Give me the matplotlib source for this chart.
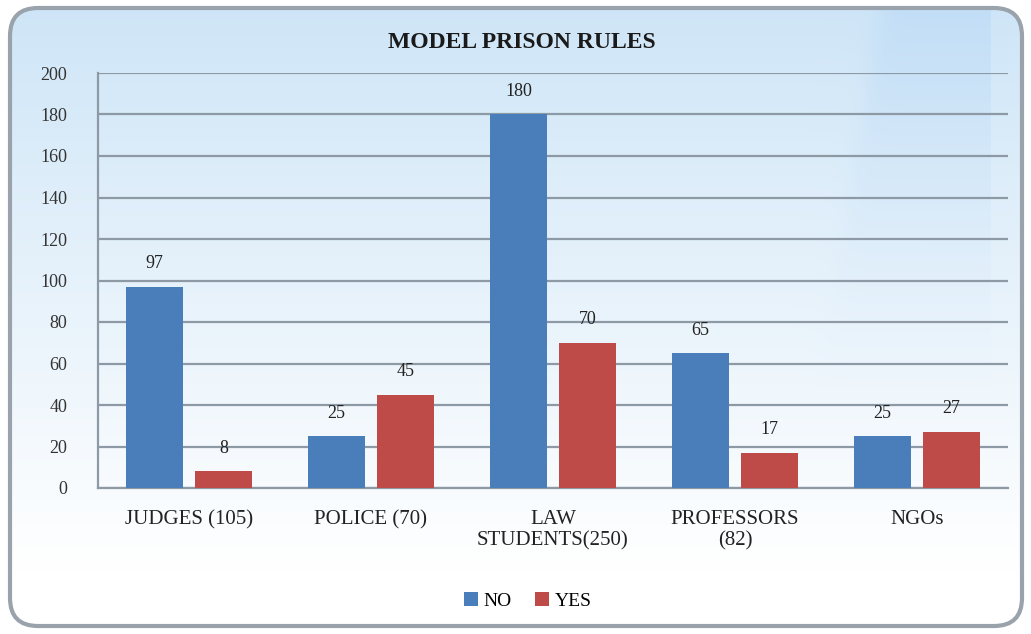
import numpy as np
import matplotlib
matplotlib.use("Agg")
import matplotlib.pyplot as plt
from matplotlib.patches import FancyBboxPatch

categories = ["JUDGES (105)", "POLICE (70)", "LAW\nSTUDENTS(250)", "PROFESSORS\n(82)", "NGOs"]
no_values = [97, 25, 180, 65, 25]
yes_values = [8, 45, 70, 17, 27]
series_names = ["NO", "YES"]
title = "MODEL PRISON RULES"
yticks = list(range(0, 201, 20))

plt.rcParams['font.family'] = ['Liberation Serif', 'DejaVu Serif']

fig = plt.figure(figsize=(10.31, 6.34), dpi=100)

# background with gradient and rounded border
bg = fig.add_axes([0, 0, 1, 1], zorder=-10)
bg.set_xlim(0, 1031)
bg.set_ylim(634, 0)
bg.axis('off')
ny, nx = 620, 1010
yy, xx = np.mgrid[0:1:ny*1j, 0:1:nx*1j]
top = np.array([0.81, 0.90, 0.97])
bot = np.array([1.0, 1.0, 1.0])
tt = np.clip(yy * 1.1, 0, 1)[..., None]
img = top[None, None, :] * (1 - tt) + bot[None, None, :] * tt
# soft diagonal streak near the right
edge = 1 / (1 + np.exp(-(xx - (0.86 - 0.10 * yy)) / 0.006))
band = edge * (xx < 0.97) * np.clip(1 - yy * 1.6, 0, 1)
img = img - 0.05 * band[..., None] * np.array([1.0, 0.6, 0.1])
img = np.clip(img, 0, 1)
patch = FancyBboxPatch((10, 8), 1012, 618, boxstyle="round,pad=0,rounding_size=28",
                       facecolor='none', edgecolor='#9aa3ab', linewidth=3)
bg.add_patch(patch)
im = bg.imshow(img, extent=[10, 1022, 626, 8], aspect='auto', zorder=0,
               interpolation='bilinear')
im.set_clip_path(patch)

ax = fig.add_axes([98/1031, 1 - 488/634, (1008 - 98)/1031, (488 - 73)/634])
ax.patch.set_alpha(0)
x = np.arange(len(categories))
w = 0.31
off = 0.19
b1 = ax.bar(x - off, no_values, w, color='#4A7EBB', label=series_names[0], zorder=3)
b2 = ax.bar(x + off, yes_values, w, color='#BE4B48', label=series_names[1], zorder=3)
for bars, vals in ((b1, no_values), (b2, yes_values)):
    for r, v in zip(bars, vals):
        ax.text(r.get_x() + r.get_width() / 2, v + 7, str(v), ha='center', va='bottom',
                fontsize=13, color='#222222')

ax.set_ylim(0, 200)
ax.set_xlim(-0.5, len(categories) - 0.5)
ax.set_yticks(yticks)
ax.set_yticklabels([str(v) for v in yticks], fontsize=13, color='#333333')
ax.set_xticks(x)
ax.set_xticklabels(categories, fontsize=15, color='#222222', linespacing=1.15)
ax.tick_params(axis='both', length=0)
ax.tick_params(axis='x', pad=16)
ax.tick_params(axis='y', pad=22)
ax.grid(axis='y', color='#8d9aa5', linewidth=1.6, zorder=0)
for s in ['top', 'right']:
    ax.spines[s].set_visible(False)
ax.spines['left'].set_color('#8d9aa5')
ax.spines['left'].set_linewidth(1.6)
ax.spines['bottom'].set_color('#8d9aa5')
ax.spines['bottom'].set_linewidth(1.6)

fig.text(522 / 1031, 1 - 42 / 634, title, ha='center', va='center', fontsize=17,
         fontweight='bold', color='#1a1a1a')

leg = fig.legend(handles=[b1, b2], labels=series_names, loc='center',
                 bbox_to_anchor=(528 / 1031, 1 - 601 / 634), ncol=2, frameon=False,
                 fontsize=14, handlelength=0.7, handleheight=0.7, handletextpad=0.3,
                 columnspacing=1.2)

fig.savefig("out.png", dpi=100)
